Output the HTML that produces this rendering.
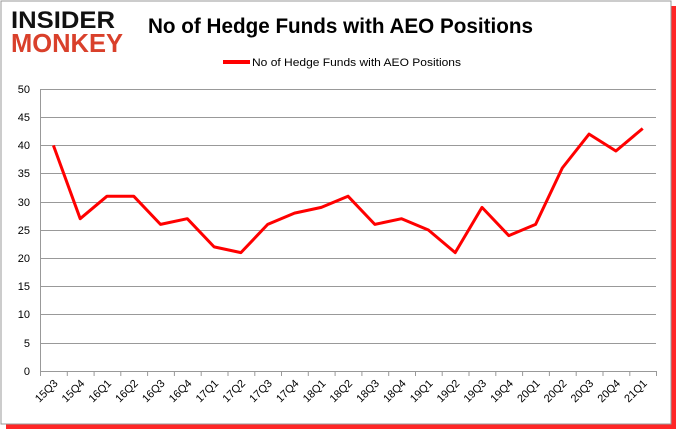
<!DOCTYPE html>
<html><head><style>body{margin:0;background:#fff}svg{display:block}</style></head><body>
<svg width="678" height="431" xmlns="http://www.w3.org/2000/svg" font-family="Liberation Sans, sans-serif">
<rect x="6" y="6" width="670" height="423" fill="#f00" opacity="0.85"/>
<rect x="1" y="1" width="670" height="423" fill="#fff" stroke="#999" stroke-width="1"/>
<text x="11" y="28" font-size="24" font-weight="bold" fill="#111" textLength="104" lengthAdjust="spacingAndGlyphs">INSIDER</text>
<text x="11" y="52" font-size="26" font-weight="bold" fill="#d9402b" textLength="112" lengthAdjust="spacingAndGlyphs">MONKEY</text>
<text x="148" y="33" font-size="21" font-weight="bold" fill="#000" textLength="385" lengthAdjust="spacingAndGlyphs">No of Hedge Funds with AEO Positions</text>
<line x1="223" y1="62" x2="250" y2="62" stroke="#f00" stroke-width="4"/>
<text x="252" y="66" font-size="11" fill="#000" textLength="209" lengthAdjust="spacingAndGlyphs">No of Hedge Funds with AEO Positions</text>
<g stroke="#999" stroke-width="1">
<line x1="40" y1="89.5" x2="656" y2="89.5"/><line x1="40" y1="117.5" x2="656" y2="117.5"/><line x1="40" y1="145.5" x2="656" y2="145.5"/><line x1="40" y1="173.5" x2="656" y2="173.5"/><line x1="40" y1="202.5" x2="656" y2="202.5"/><line x1="40" y1="230.5" x2="656" y2="230.5"/><line x1="40" y1="258.5" x2="656" y2="258.5"/><line x1="40" y1="286.5" x2="656" y2="286.5"/><line x1="40" y1="314.5" x2="656" y2="314.5"/><line x1="40" y1="343.5" x2="656" y2="343.5"/><line x1="40" y1="371.5" x2="656" y2="371.5"/>
<line x1="40.5" y1="89" x2="40.5" y2="371"/>
<path d="M40.5 371v5M67.3 371v5M94.1 371v5M120.8 371v5M147.6 371v5M174.4 371v5M201.2 371v5M228 371v5M254.8 371v5M281.5 371v5M308.3 371v5M335.1 371v5M361.9 371v5M388.7 371v5M415.5 371v5M442.2 371v5M469 371v5M495.8 371v5M522.6 371v5M549.4 371v5M576.2 371v5M603 371v5M629.8 371v5M656.5 371v5"/>
</g>
<g font-size="11" text-anchor="end" fill="#000">
<text x="30" y="93">50</text><text x="30" y="121">45</text><text x="30" y="149">40</text><text x="30" y="177">35</text><text x="30" y="206">30</text><text x="30" y="234">25</text><text x="30" y="262">20</text><text x="30" y="290">15</text><text x="30" y="318">10</text><text x="30" y="347">5</text><text x="30" y="375">0</text>
</g>
<g font-size="11" fill="#000" text-anchor="end">
<text transform="translate(58.4,384) rotate(-45)">15Q3</text>
<text transform="translate(85.2,384) rotate(-45)">15Q4</text>
<text transform="translate(112,384) rotate(-45)">16Q1</text>
<text transform="translate(138.7,384) rotate(-45)">16Q2</text>
<text transform="translate(165.5,384) rotate(-45)">16Q3</text>
<text transform="translate(192.3,384) rotate(-45)">16Q4</text>
<text transform="translate(219.1,384) rotate(-45)">17Q1</text>
<text transform="translate(245.9,384) rotate(-45)">17Q2</text>
<text transform="translate(272.7,384) rotate(-45)">17Q3</text>
<text transform="translate(299.5,384) rotate(-45)">17Q4</text>
<text transform="translate(326.3,384) rotate(-45)">18Q1</text>
<text transform="translate(353,384) rotate(-45)">18Q2</text>
<text transform="translate(379.8,384) rotate(-45)">18Q3</text>
<text transform="translate(406.6,384) rotate(-45)">18Q4</text>
<text transform="translate(433.4,384) rotate(-45)">19Q1</text>
<text transform="translate(460.2,384) rotate(-45)">19Q2</text>
<text transform="translate(487,384) rotate(-45)">19Q3</text>
<text transform="translate(513.8,384) rotate(-45)">19Q4</text>
<text transform="translate(540.6,384) rotate(-45)">20Q1</text>
<text transform="translate(567.3,384) rotate(-45)">20Q2</text>
<text transform="translate(594.1,384) rotate(-45)">20Q3</text>
<text transform="translate(620.9,384) rotate(-45)">20Q4</text>
<text transform="translate(647.7,384) rotate(-45)">21Q1</text>
</g>
<polyline fill="none" stroke="#f00" stroke-width="3" stroke-linejoin="round" points="53.4,145.4 80.2,218.7 107,196.2 133.7,196.2 160.5,224.4 187.3,218.7 214.1,246.9 240.9,252.6 267.7,224.4 294.5,213.1 321.3,207.4 348,196.2 374.8,224.4 401.6,218.7 428.4,230 455.2,252.6 482,207.4 508.8,235.6 535.6,224.4 562.3,168 589.1,134.1 615.9,151 642.7,128.5"/>
</svg>
</body></html>
